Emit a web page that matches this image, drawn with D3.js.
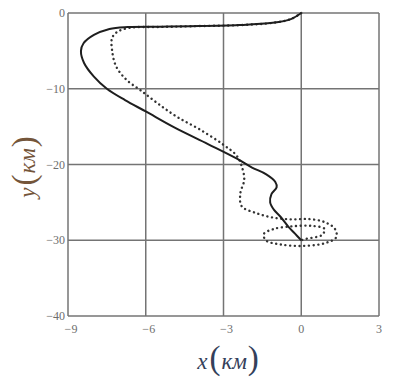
<!DOCTYPE html>
<html>
<head>
<meta charset="utf-8">
<script src="https://cdn.jsdelivr.net/npm/d3@7"></script>
<style>
  body { margin: 0; background: #fff; }
  svg { display: block; }
  .tick-label { font-family: 'Liberation Serif', serif; font-size: 12px; fill: #6e6e6e; }
  .title { font-family: 'Liberation Serif', serif; font-style: italic; }
</style>
</head>
<body>
<div id="chart"></div>
<script>
var xTicks = [-9, -6, -3, 0, 3]
var yTicks = [0, -10, -20, -30, -40]

// solid trajectory (km)
var solidX = [0, -0.4, -1.1, -2.4, -4.3, -5.5, -6.7, -7.4, -8.0, -8.4, -8.5, -8.38, -8.0, -7.5, -6.8, -6.0, -4.9, -3.6, -2.5, -1.9, -1.35, -1.0, -0.95, -1.15, -1.2, -1.05, -0.8, -0.5, -0.25, 0]
var solidY = [0, -0.8, -1.3, -1.6, -1.75, -1.8, -1.85, -2.1, -2.9, -4.0, -5.0, -6.6, -8.4, -10.0, -11.5, -13.0, -15.1, -17.3, -19.2, -20.4, -21.3, -22.3, -23.0, -23.9, -25.0, -26.0, -26.9, -28.2, -29.1, -30]

// dotted trajectory (km)
var dottedX = [0, -0.4, -1.1, -2.4, -4.3, -5.5, -6.6, -7.1, -7.3, -7.3, -7.15, -6.75, -6.2, -5.55, -4.8, -3.9, -3.0, -2.5, -2.3, -2.2, -2.35, -2.3, -1.75, -1.1, -0.4, 0.3, 0.9, 1.3, 1.35, 0.9, 0.0, -0.8, -1.35, -1.45, -1.05, -0.3, 0.4, 0.9, 0.8, 0.2, 0]
var dottedY = [0, -0.8, -1.3, -1.6, -1.75, -1.85, -1.95, -2.5, -3.3, -4.9, -7.0, -8.8, -10.2, -11.9, -13.7, -15.4, -17.4, -18.8, -20.2, -22.0, -23.8, -25.5, -26.4, -27.0, -27.25, -27.2, -27.6, -28.5, -29.6, -30.4, -30.75, -30.55, -30.05, -29.2, -28.5, -28.15, -28.1, -28.5, -29.3, -29.8, -30]

var W = 393
var H = 380
var margin = { top: 13, right: 14, bottom: 64, left: 68 }

var svg = d3.select('#chart').append('svg')
  .attr('width', W)
  .attr('height', H)

var x = d3.scaleLinear().domain([-9, 3]).range([margin.left, W - margin.right])
var y = d3.scaleLinear().domain([0, -40]).range([margin.top, H - margin.bottom])

// grid + frame
svg.append('g').selectAll('line').data(xTicks).enter().append('line')
  .attr('x1', function (d) { return x(d) })
  .attr('x2', function (d) { return x(d) })
  .attr('y1', y(0))
  .attr('y2', y(-40))
  .attr('stroke', '#747474')
  .attr('stroke-width', 1.5)

svg.append('g').selectAll('line').data(yTicks).enter().append('line')
  .attr('x1', x(-9))
  .attr('x2', x(3))
  .attr('y1', function (d) { return y(d) })
  .attr('y2', function (d) { return y(d) })
  .attr('stroke', '#747474')
  .attr('stroke-width', 1.5)

// tick labels
svg.append('g').selectAll('text').data(yTicks).enter().append('text')
  .attr('class', 'tick-label')
  .attr('x', x(-9) - 3)
  .attr('y', function (d) { return y(d) + 4 })
  .attr('text-anchor', 'end')
  .text(function (d) { return d === 0 ? '0' : '\u2212' + Math.abs(d) })

svg.append('g').selectAll('text').data(xTicks).enter().append('text')
  .attr('class', 'tick-label')
  .attr('x', function (d) { return x(d) + (d < 0 ? 3 : 0) })
  .attr('y', y(-40) + 17)
  .attr('text-anchor', 'middle')
  .text(function (d) { return d < 0 ? '\u2212' + Math.abs(d) : String(d) })

// curves
function zip (xs, ys) {
  return xs.map(function (v, i) { return [v, ys[i]] })
}

var line = d3.line()
  .x(function (d) { return x(d[0]) })
  .y(function (d) { return y(d[1]) })
  .curve(d3.curveCatmullRom.alpha(0.5))

svg.append('path')
  .datum(zip(dottedX, dottedY))
  .attr('d', line)
  .attr('fill', 'none')
  .attr('stroke', '#333')
  .attr('stroke-width', 2.4)
  .attr('stroke-linecap', 'round')
  .attr('stroke-dasharray', '0.1,4.6')

svg.append('path')
  .datum(zip(solidX, solidY))
  .attr('d', line)
  .attr('fill', 'none')
  .attr('stroke', '#1e1e1e')
  .attr('stroke-width', 2)

// axis titles
function title (sel) {
  sel.append('tspan').attr('font-size', '23px').text('x')
  sel.append('tspan').attr('font-size', '33px').attr('font-style', 'normal').attr('dx', 2).text('(')
  sel.append('tspan').attr('font-size', '23px').attr('dx', 1).text('км')
  sel.append('tspan').attr('font-size', '33px').attr('font-style', 'normal').attr('dx', 1).text(')')
}

var xt = svg.append('text')
  .attr('class', 'title')
  .attr('x', 228)
  .attr('y', 369)
  .attr('text-anchor', 'middle')
  .attr('fill', '#34405a')
title(xt)

var yt = svg.append('text')
  .attr('class', 'title')
  .attr('transform', 'translate(35,167) rotate(-90)')
  .attr('text-anchor', 'middle')
  .attr('fill', '#74553a')
title(yt)
yt.select('tspan').text('y')
</script>
</body>
</html>
